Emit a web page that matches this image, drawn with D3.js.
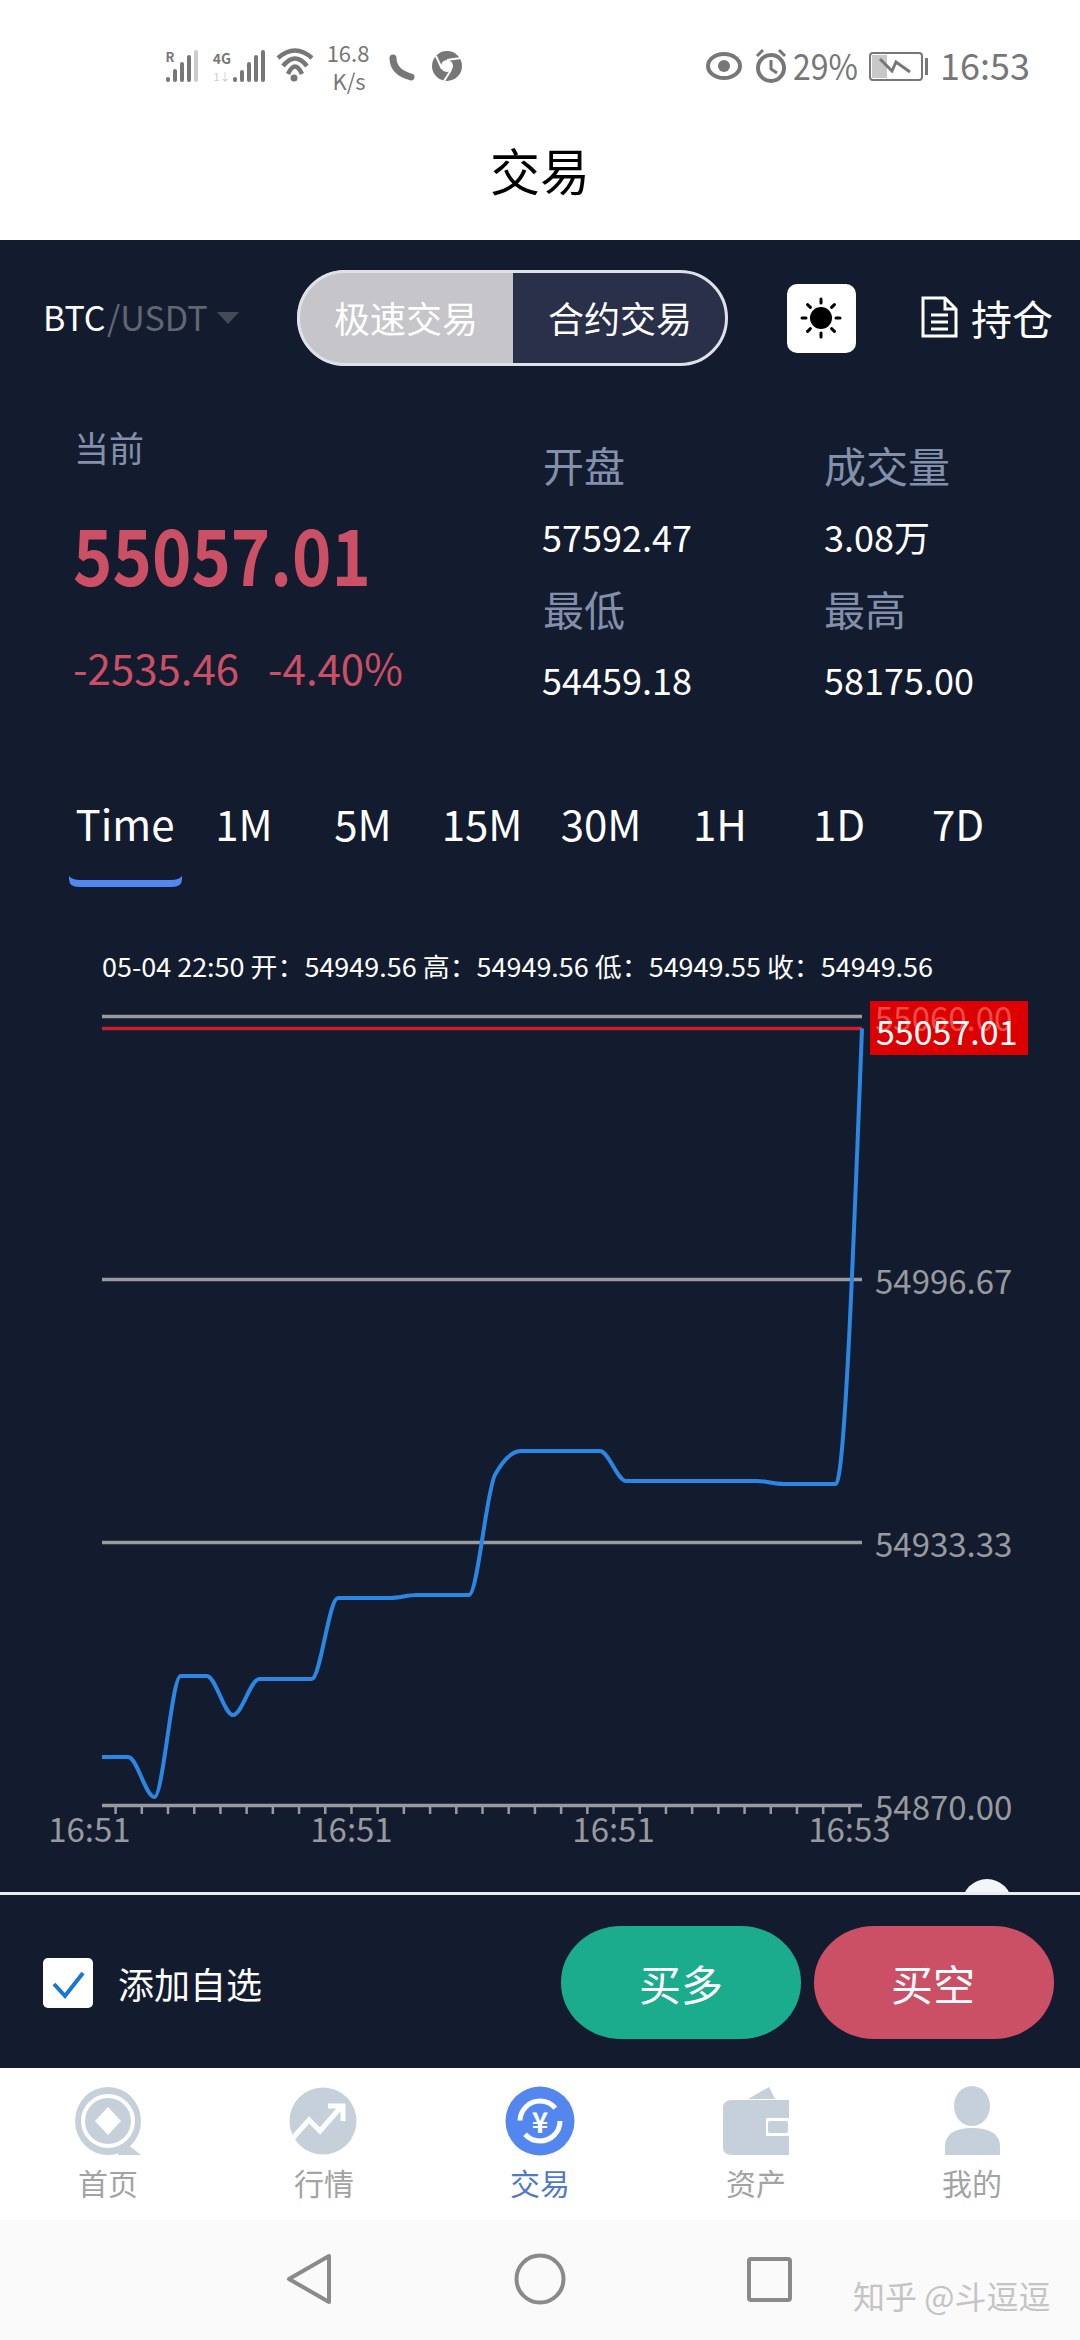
<!DOCTYPE html>
<html>
<head>
<meta charset="utf-8">
<script src="https://cdn.jsdelivr.net/npm/d3@7"></script>
<style>
html, body { margin: 0; padding: 0; background: #fff; }
svg { display: block; }
text { font-family: "Noto Sans CJK SC", "Noto Sans", sans-serif; }
</style>
</head>
<body>
<div id="vis"></div>
<script>
// Chart data
var prices = [54881.56, 54881.56, 54871.93, 54901.06, 54901.06, 54891.67, 54900.34, 54900.34, 54900.34, 54919.85,
              54919.85, 54919.85, 54920.57, 54920.57, 54920.57, 54949.56, 54955.25, 54955.25, 54955.25, 54955.25,
              54948.02, 54948.02, 54948.02, 54948.02, 54948.02, 54948.02, 54947.30, 54947.30, 54947.30, 55057.01];
var priceTicks = [54870, 54933.33, 54996.67, 55060];
var timeLabelPos = [-0.5, 9.5, 19.5, 28.5];
var timeLabels = ["16:51", "16:51", "16:51", "16:53"];
var lastPrice = 55057.01;
var rangeTabs = ["Time", "1M", "5M", "15M", "30M", "1H", "1D", "7D"];
var navTabs = ["首页", "行情", "交易", "资产", "我的"];

var W = 1080, H = 2340;
var navy = "#131c2e", red = "#cb4f65", muted = "#8390ab", axisGrey = "#989a9f";

var svg = d3.select("#vis").append("svg").attr("width", W).attr("height", H);

// y is the visual centre of the line; central baseline sits about 3px low for this font
function label(x, y, str, size, fill, anchor, weight) {
    return svg.append("text")
        .attr("x", x).attr("y", y - 3)
        .attr("dominant-baseline", "central")
        .attr("text-anchor", anchor || "start")
        .attr("font-size", size)
        .attr("font-weight", weight || 400)
        .attr("fill", fill)
        .text(str);
}

// Backgrounds
svg.append("rect").attr("width", W).attr("height", 240).attr("fill", "#fff");
svg.append("rect").attr("y", 240).attr("width", W).attr("height", 1828).attr("fill", navy);
svg.append("rect").attr("y", 2068).attr("width", W).attr("height", 152).attr("fill", "#fff");
svg.append("rect").attr("y", 2220).attr("width", W).attr("height", 120).attr("fill", "#fafafa");

// Status bar
var sb = "#777";
function bars(x0, heights, colors) {
    heights.forEach(function(h, i) {
        svg.append("rect").attr("x", x0 + i * 7).attr("y", 82 - h).attr("width", 4).attr("height", h)
            .attr("rx", 2).attr("fill", colors ? colors[i] : sb);
    });
}
bars(166, [5, 13, 20, 27, 32], [sb, sb, sb, sb, "#ccc"]);
label(170, 59, "R", 13, sb, "middle", 700);
bars(233, [5, 12, 20, 27, 32]);
label(222, 61, "4G", 14, sb, "middle", 700);
label(222, 79, "1↓", 11, "#ccc", "middle");
[[17, 50], [12, 58], [7, 66]].forEach(function(a) {
    svg.append("path").attr("fill", "none").attr("stroke", sb).attr("stroke-width", 4.5)
        .attr("d", "M" + (295 - a[0]) + "," + (a[1] + 8) + " Q295," + (a[1] - 7) + " " + (295 + a[0]) + "," + (a[1] + 8));
});
svg.append("circle").attr("cx", 294).attr("cy", 78).attr("r", 3.5).attr("fill", sb);
label(348, 55, "16.8", 22, sb, "middle");
label(349, 83, "K/s", 22, sb, "middle");
svg.append("path").attr("fill", "none").attr("stroke", sb).attr("stroke-width", 7).attr("stroke-linecap", "round")
    .attr("d", "M393,58 Q393,72 411,77");
svg.append("circle").attr("cx", 447).attr("cy", 66).attr("r", 15).attr("fill", sb);
svg.append("circle").attr("cx", 447).attr("cy", 66).attr("r", 6).attr("fill", "#fff");
svg.append("path").attr("fill", "none").attr("stroke", "#fff").attr("stroke-width", 2).attr("d", "M447,60 L461,58 M442,69 L436,56 M451,70 L444,81");
svg.append("ellipse").attr("cx", 724).attr("cy", 66).attr("rx", 16).attr("ry", 12).attr("fill", "none").attr("stroke", sb).attr("stroke-width", 4);
svg.append("circle").attr("cx", 724).attr("cy", 66).attr("r", 6).attr("fill", sb);
svg.append("circle").attr("cx", 771).attr("cy", 68).attr("r", 13).attr("fill", "none").attr("stroke", sb).attr("stroke-width", 4);
svg.append("path").attr("fill", "none").attr("stroke", sb).attr("stroke-width", 3)
    .attr("d", "M771,60 V69 L777,73 M757,56 L763,50 M785,56 L779,50");
label(793, 67, "29%", 36, sb).attr("textLength", 65).attr("lengthAdjust", "spacingAndGlyphs");
svg.append("rect").attr("x", 870).attr("y", 53).attr("width", 52).attr("height", 27).attr("rx", 3).attr("fill", "none").attr("stroke", sb).attr("stroke-width", 2);
svg.append("rect").attr("x", 872).attr("y", 55).attr("width", 15).attr("height", 23).attr("fill", "#c8c8c8");
svg.append("path").attr("fill", "none").attr("stroke", sb).attr("stroke-width", 3).attr("d", "M880,59 L892,71 L896,62 L910,72");
svg.append("rect").attr("x", 925).attr("y", 58).attr("width", 3).attr("height", 17).attr("fill", sb);
label(940, 67, "16:53", 36, sb);

// Title
label(540, 172, "交易", 50, "#000", "middle");

// Pair selector and toggle
label(43, 319, "BTC", 34, "#fff");
label(107, 319, "/USDT", 34, "#62676f");
svg.append("path").attr("d", "M217,312 H239 L228,324 Z").attr("fill", "#444b58");
svg.append("clipPath").attr("id", "pill").append("rect")
    .attr("x", 297).attr("y", 270).attr("width", 431).attr("height", 96).attr("rx", 48);
var pill = svg.append("g").attr("clip-path", "url(#pill)");
pill.append("rect").attr("x", 297).attr("y", 270).attr("width", 216).attr("height", 96).attr("fill", "#c5c5ca");
pill.append("rect").attr("x", 513).attr("y", 270).attr("width", 215).attr("height", 96).attr("fill", "#2a3049");
svg.append("rect").attr("x", 298.5).attr("y", 271.5).attr("width", 428).attr("height", 93).attr("rx", 46.5)
    .attr("fill", "none").attr("stroke", "#dfe1e8").attr("stroke-width", 3);
label(406, 320, "极速交易", 36, "#fff", "middle");
label(620, 320, "合约交易", 36, "#fff", "middle");

// Theme button
svg.append("rect").attr("x", 787).attr("y", 284).attr("width", 69).attr("height", 69).attr("rx", 10).attr("fill", "#fff");
svg.append("circle").attr("cx", 821).attr("cy", 318).attr("r", 11).attr("fill", "#000");
d3.range(8).forEach(function(i) {
    var a = i * Math.PI / 4;
    svg.append("line")
        .attr("x1", 821 + 15 * Math.cos(a)).attr("y1", 318 + 15 * Math.sin(a))
        .attr("x2", 821 + 19 * Math.cos(a)).attr("y2", 318 + 19 * Math.sin(a))
        .attr("stroke", "#000").attr("stroke-width", 3).attr("stroke-linecap", "round");
});

// Positions link
svg.append("path").attr("fill", "none").attr("stroke", "#fff").attr("stroke-width", 3)
    .attr("d", "M923,298 H945 L956,309 V336 H923 Z M945,298 V309 H956 M931,315 H948 M931,322 H948 M931,329 H948");
label(971, 320, "持仓", 41, "#fff");

// Ticker numbers
label(74, 449, "当前", 35, muted);
label(73, 555, "55057.01", 78, red, "start", 700).attr("textLength", 298).attr("lengthAdjust", "spacingAndGlyphs");
label(73, 669, "-2535.46", 42, red);
label(268, 669, "-4.40%", 42, red);
label(543, 467, "开盘", 41, muted);
label(824, 467, "成交量", 42, muted);
label(542, 539, "57592.47", 36, "#fff");
label(824, 539, "3.08万", 36, "#fff");
label(543, 611, "最低", 41, muted);
label(824, 611, "最高", 41, muted);
label(542, 682, "54459.18", 36, "#fff");
label(824, 682, "58175.00", 36, "#fff");

// Range tabs
var tabX = d3.scalePoint().domain(rangeTabs).range([125, 958]);
rangeTabs.forEach(function(t) {
    label(tabX(t), 825, t, 42, "#fff", "middle");
});
svg.append("path").attr("fill", "#5486f0")
    .attr("d", "M69,876 Q72,880 80,880 H171 Q179,880 182,876 V879 Q182,887 172,887 H79 Q69,887 69,879 Z");

// Info row
label(102, 968, "05-04 22:50 开：54949.56 高：54949.56 低：54949.55 收：54949.56", 26, "#fff")
    .attr("textLength", 831).attr("lengthAdjust", "spacingAndGlyphs");

// Chart
var x = d3.scaleLinear().domain([0, prices.length - 1]).range([102, 862]);
var y = d3.scaleLinear().domain([54870, 55060]).range([1805, 1016]);

// Price box sits under the axis so the top tick shows through it
svg.append("rect").attr("x", 870).attr("y", 1001).attr("width", 158).attr("height", 54).attr("fill", "#dd0000");

var yAxis = svg.append("g").attr("transform", "translate(" + x.range()[1] + ",0)")
    .call(d3.axisRight(y).tickValues(priceTicks).tickFormat(d3.format(".2f")).tickSize(-760).tickPadding(13));
yAxis.select(".domain").remove();
yAxis.selectAll("line").attr("stroke", axisGrey).attr("stroke-width", 3.5);
yAxis.selectAll("text")
    .attr("font-size", 33).attr("font-family", '"Noto Sans CJK SC"').attr("fill", axisGrey)
    .attr("dy", "0.45em")
    .filter(function(d) { return d === 55060; }).attr("fill", "#ee4a4a");

var xTicks = d3.range(0.5, prices.length - 1, 1);
var xAxis = svg.append("g").attr("transform", "translate(0," + y(54870) + ")")
    .call(d3.axisBottom(x).tickValues(xTicks).tickFormat("").tickSize(9).tickSizeOuter(0));
xAxis.select(".domain").remove();
xAxis.selectAll("line").attr("stroke", axisGrey).attr("stroke-width", 2.5);

var xLabels = svg.append("g").attr("transform", "translate(0," + y(54870) + ")")
    .call(d3.axisBottom(x).tickValues(timeLabelPos).tickSize(0).tickPadding(14)
        .tickFormat(function(d, i) { return timeLabels[i]; }));
xLabels.select(".domain").remove();
xLabels.selectAll("text")
    .attr("font-size", 33).attr("font-family", '"Noto Sans CJK SC"').attr("fill", axisGrey);

svg.append("line").attr("x1", x.range()[0]).attr("x2", x.range()[1])
    .attr("y1", y(lastPrice)).attr("y2", y(lastPrice))
    .attr("stroke", "#c8202a").attr("stroke-width", 3.5);

var line = d3.line()
    .x(function(d, i) { return x(i); })
    .y(function(d) { return y(d); })
    .curve(d3.curveMonotoneX);
svg.append("path").datum(prices)
    .attr("fill", "none").attr("stroke", "#2b87e3").attr("stroke-width", 4)
    .attr("d", line);

label(876, 1033, d3.format(".2f")(lastPrice), 34, "#fff");

// Divider and drag handle
svg.append("clipPath").attr("id", "handle").append("rect").attr("width", W).attr("height", 1894);
svg.append("circle").attr("cx", 987).attr("cy", 1904).attr("r", 25).attr("fill", "#f4f5f7").attr("clip-path", "url(#handle)");
svg.append("rect").attr("y", 1892).attr("width", W).attr("height", 3).attr("fill", "#e8ebef");

// Actions
svg.append("rect").attr("x", 43).attr("y", 1958).attr("width", 50).attr("height", 50).attr("rx", 5).attr("fill", "#fff");
svg.append("path").attr("fill", "none").attr("stroke", "#1677d8").attr("stroke-width", 4)
    .attr("d", "M54,1984 L65,1996 L83,1973");
label(118, 1986, "添加自选", 36, "#fff");
svg.append("rect").attr("x", 561).attr("y", 1926).attr("width", 240).attr("height", 113).attr("rx", 60).attr("ry", 56).attr("fill", "#1bac8e");
svg.append("rect").attr("x", 814).attr("y", 1926).attr("width", 240).attr("height", 113).attr("rx", 60).attr("ry", 56).attr("fill", red);
label(681, 1985, "买多", 42, "#fff", "middle");
label(933, 1985, "买空", 42, "#fff", "middle");

// Bottom tabs
var navX = d3.scalePoint().domain(navTabs).range([108, 972]);
var iconGrey = "#c6d0da", active = "#5486f0";
navTabs.forEach(function(t) {
    label(navX(t), 2185, t, 30, t === "交易" ? "#5079c7" : "#a3a3a3", "middle");
});
// 首页
svg.append("ellipse").attr("cx", 108).attr("cy", 2121).attr("rx", 33).attr("ry", 34).attr("fill", iconGrey);
svg.append("path").attr("d", "M122,2140 L141,2155 H118 Z").attr("fill", iconGrey);
svg.append("circle").attr("cx", 108).attr("cy", 2121).attr("r", 25).attr("fill", "none").attr("stroke", "#fff").attr("stroke-width", 4);
svg.append("path").attr("d", "M108,2107 L121,2121 L108,2135 L95,2121 Z").attr("fill", "#fff");
// 行情
svg.append("circle").attr("cx", 323).attr("cy", 2121).attr("r", 33.5).attr("fill", iconGrey);
svg.append("path").attr("fill", "none").attr("stroke", "#fff").attr("stroke-width", 5)
    .attr("d", "M292,2139 L309,2120 L320,2131 L340,2108 M328,2106 H343 V2121");
// 交易
svg.append("circle").attr("cx", 540).attr("cy", 2121).attr("r", 34.5).attr("fill", active);
svg.append("circle").attr("cx", 540).attr("cy", 2121).attr("r", 20).attr("fill", "none")
    .attr("stroke", "#fff").attr("stroke-width", 5).attr("stroke-dasharray", "48 15");
label(540, 2124, "¥", 28, "#fff", "middle", 700);
// 资产
svg.append("path").attr("fill", iconGrey)
    .attr("d", "M723,2108 Q723,2100 732,2100 H789 V2118 H766 V2136 H789 V2155 H732 Q723,2155 723,2147 Z");
svg.append("path").attr("fill", iconGrey).attr("d", "M748,2099 L769,2087 L775,2099 Z");
svg.append("rect").attr("x", 768).attr("y", 2121).attr("width", 20).attr("height", 12).attr("rx", 2).attr("fill", iconGrey);
// 我的
svg.append("ellipse").attr("cx", 972).attr("cy", 2106).attr("rx", 18).attr("ry", 20).attr("fill", iconGrey);
svg.append("path").attr("fill", iconGrey)
    .attr("d", "M945,2155 V2147 Q945,2128 972,2128 Q1000,2128 1000,2147 V2155 Z");

// Android navigation
var navGrey = "#8a8a8a";
svg.append("path").attr("fill", "none").attr("stroke", navGrey).attr("stroke-width", 4).attr("stroke-linejoin", "round")
    .attr("d", "M329,2256 V2302 L289,2279 Z");
svg.append("circle").attr("cx", 540).attr("cy", 2279).attr("r", 23.5).attr("fill", "none").attr("stroke", navGrey).attr("stroke-width", 4);
svg.append("rect").attr("x", 749).attr("y", 2259).attr("width", 41).attr("height", 41).attr("rx", 2).attr("fill", "none").attr("stroke", navGrey).attr("stroke-width", 4);

// Watermark
label(853, 2298, "知乎 @斗逗逗", 32, "#c4c4c4");
</script>
</body>
</html>
